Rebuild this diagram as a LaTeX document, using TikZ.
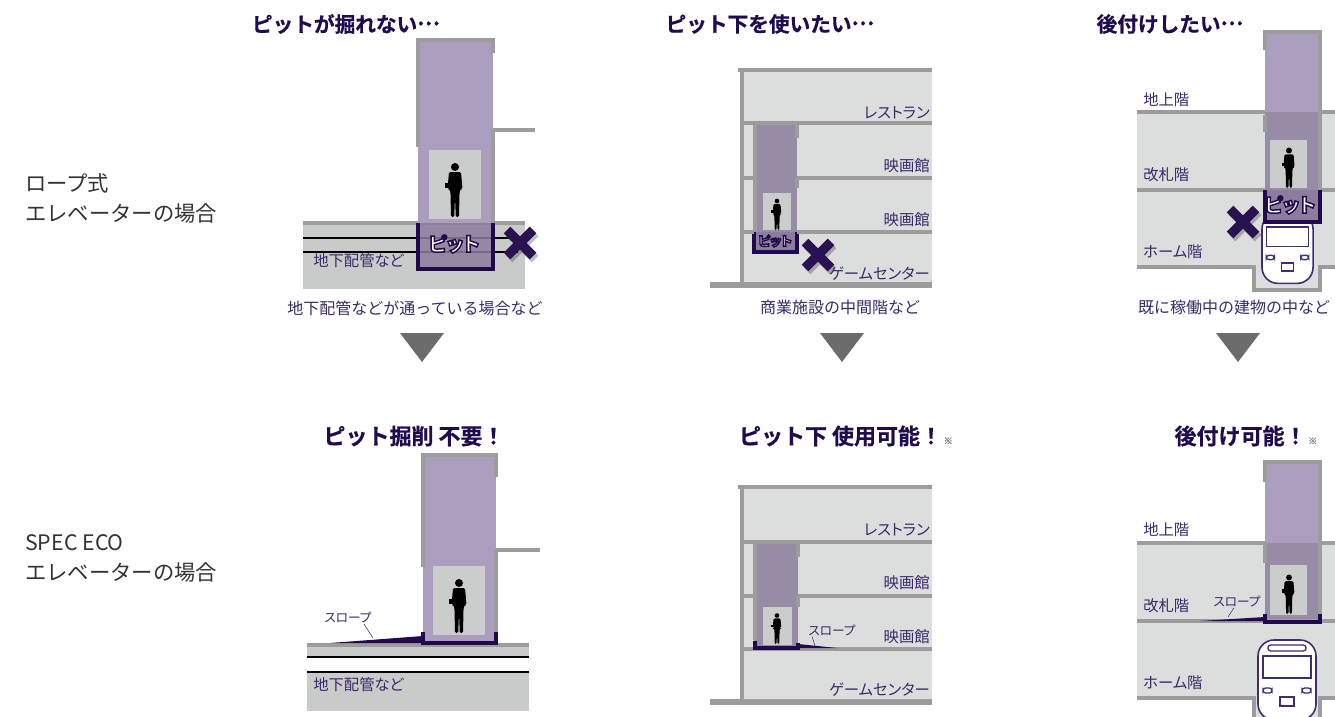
\documentclass[tikz,border=0pt]{standalone}
\usepackage{fontspec}
\setmainfont{Noto Sans CJK JP}
\newfontfamily\propfont{Noto Sans CJK JP}[RawFeature=+palt]
\newfontfamily\titlefont{Noto Sans CJK JP Bold}[FakeBold=0.6]
\usetikzlibrary{positioning}

\definecolor{titlecol}{HTML}{1F0B4D}
\definecolor{lblcol}{HTML}{3B2968}
\definecolor{sidecol}{HTML}{333333}
\definecolor{wallgray}{HTML}{9C9C9C}
\definecolor{floorfill}{HTML}{DCDDDD}
\definecolor{groundfill}{HTML}{C9CACA}
\definecolor{shaftlight}{HTML}{AB9DBE}
\definecolor{shaftmid}{HTML}{978BA6}
\definecolor{pitfill}{HTML}{8C7D9E}
\definecolor{pitdark}{HTML}{21094D}
\definecolor{cabgray}{HTML}{CBCCCC}
\definecolor{arrowgray}{HTML}{6B6B6B}
\definecolor{ngcol}{HTML}{2A1252}
\definecolor{trainline}{HTML}{3F2D6E}

\newcommand{\pitword}{\textcolor{white}{\special{pdf:literal direct 2 Tr 1.1 w 0.129 0.035 0.302 RG}ピット\special{pdf:literal direct 0 Tr}}}
\newcommand{\kome}{{\fontsize{7}{8}\selectfont\mdseries\color{gray}\,※}}
\newcommand{\tdots}{\raisebox{0.33em}{…}}

\begin{document}
\begin{tikzpicture}[x=0.75pt, y=-0.75pt,
  wall/.style={draw=wallgray, line width=3.6pt},
  pipe/.style={draw=black, line width=1.4pt},
  pitline/.style={draw=pitdark, line width=3pt},
  title/.style={font=\titlefont\fontsize{15.5}{18}\selectfont, text=titlecol},
  result/.style={font=\titlefont\fontsize{16.5}{19}\selectfont, text=titlecol},
  lbl/.style={font=\propfont\fontsize{11.5}{13}\selectfont, text=lblcol, inner sep=0pt},
  caption/.style={font=\fontsize{12}{14}\selectfont, text=lblcol, inner sep=0pt},
  slope/.style={font=\propfont\fontsize{9.5}{10}\selectfont, text=lblcol, inner sep=0pt},
  pitlbl/.style={font=\propfont\fontsize{14.5}{15}\selectfont\bfseries, inner sep=0pt},
  side/.style={font=\fontsize{16}{22.5}\selectfont, text=sidecol, align=left, anchor=west, inner sep=0pt},
  down/.style={fill=arrowgray},
  leader/.style={draw=lblcol, line width=0.4pt},
  pics/person/.style={code={
    \fill[black] (0,-50) circle (4);
    \fill[black, rounded corners=1pt] (-6,-45) -- (6,-45) -- (7.5,-28) -- (5.5,-28) -- (4.5,-24)
      -- (4,0) -- (0.8,0) -- (0,-20) -- (-0.8,0) -- (-4,0) -- (-4.5,-24) -- (-5.5,-28) -- (-7.5,-28) -- cycle;
    \fill[black] (-10,-34) rectangle (-5,-29);
  }},
  pics/ng/.style={code={
    \draw[line width=7pt, black, opacity=0.25] (-11,-10) -- (15,16) (15,-10) -- (-11,16);
    \draw[line width=7pt, ngcol] (-13,-13) -- (13,13) (13,-13) -- (-13,13);
  }},
  pics/train/.style={code={
    \draw[trainline, line width=1.2pt, fill=white, rounded corners=12pt] (0,80) -- (0,0) -- (58,0) -- (58,80) -- cycle;
    \draw[trainline, line width=1pt, rounded corners=2pt] (10,5) rectangle (48,11);
    \draw[trainline, line width=1pt] (5,16) rectangle (53,38);
    \draw[trainline, line width=1pt, rounded corners=2pt] (5,48) rectangle (14,53) (44,48) rectangle (53,53);
    \draw[trainline, line width=1pt] (22,57) rectangle (36,66);
  }}]

\useasboundingbox (0,0) rectangle (1335,717);

\node[side] (rope) at (25,198) {ロープ式\\エレベーターの場合};
\node[side] (eco) at (25,558) {SPEC ECO\\エレベーターの場合};

\fill[groundfill] (303,221) rectangle (525,289);
\draw[wall] (303,223) -- (525,223);
\draw[pipe] (303,238) -- (518,238) (303,252) -- (518,252);
\fill[shaftlight] (418,40) rectangle (493,223);
\fill[cabgray] (429,150) rectangle (481,219);
\pic at (455,217) {person};
\fill[pitfill, fill opacity=0.85] (418,223) rectangle (493,269);
\draw[pitline] (418,223) -- (418,269) -- (493,269) -- (493,223);
\draw[wall] (418,147) -- (418,40) -- (493,40) -- (493,53);
\draw[wall] (493,130) -- (493,223) (493,130) -- (535,130);
\node[pitlbl] (pit1) at (454,244) {\pitword};
\pic at (520,243) {ng};
\node[lbl, anchor=west] (pipe1) at (313,261) {地下配管など};
\node[caption] (cap1) at (415,308) {地下配管などが通っている場合など};
\node[title] (t1) at (346,24) {ピットが掘れない\tdots};
\fill[down] (400,333) -- (444,333) -- (422,362) -- cycle;

\fill[floorfill] (742,70) rectangle (932,285);
\fill[shaftmid] (754,123) rectangle (797,232);
\fill[cabgray] (763,193) rectangle (791,230);
\pic[scale=0.58] at (777,230) {person};
\fill[pitfill] (754,232) rectangle (797,252);
\draw[pitline] (754,232) -- (754,252) -- (797,252) -- (797,232);
\draw[wall] (738,70) -- (932,70) (742,70) -- (742,285) (742,123) -- (932,123);
\draw[wall] (742,178) -- (755,178) (797,178) -- (932,178);
\draw[wall] (742,232) -- (754,232) (797,232) -- (932,232);
\draw[wall] (755,123) -- (755,232) (797,123) -- (797,138) (797,178) -- (797,188);
\draw[wall, line width=4.5pt] (710,285) -- (932,285);
\node[pitlbl, font=\propfont\fontsize{9.5}{10}\selectfont\bfseries] (pit2) at (775,241) {\pitword};
\pic at (818,255) {ng};
\node[lbl, anchor=east] (r2a) at (930,113) {レストラン};
\node[lbl, anchor=east] (r2b) at (930,166) {映画館};
\node[lbl, anchor=east] (r2c) at (930,220) {映画館};
\node[lbl, anchor=east] (r2d) at (930,274) {ゲームセンター};
\node[caption] (cap2) at (840,307) {商業施設の中間階など};
\node[title] (t2) at (770,24) {ピット下を使いたい\tdots};
\fill[down] (820,333) -- (864,333) -- (842,362) -- cycle;

\fill[floorfill] (1137,112) rectangle (1335,267);
\fill[floorfill] (1254,267) rectangle (1320,290);
\draw[wall] (1137,112) -- (1265,112) (1320,112) -- (1335,112);
\draw[wall] (1137,190) -- (1265,190) (1320,190) -- (1335,190);
\draw[wall] (1137,267) -- (1254,267) -- (1254,290) -- (1320,290) -- (1320,267) -- (1335,267);
\pic[scale=0.88] at (1262,213) {train};
\fill[shaftlight] (1265,32) rectangle (1320,112);
\fill[shaftmid] (1265,112) rectangle (1320,190);
\fill[cabgray] (1270,140) rectangle (1307,188);
\pic[scale=0.75] at (1289,188) {person};
\fill[pitfill] (1265,190) rectangle (1320,222);
\draw[pitline] (1265,190) -- (1265,222) -- (1320,222) -- (1320,190);
\draw[wall] (1265,50) -- (1265,32) -- (1320,32) -- (1320,190) (1265,115) -- (1265,132);
\node[pitlbl] (pit3) at (1290,205) {\pitword};
\pic at (1243,222) {ng};
\node[lbl, anchor=west] (r3a) at (1143,100) {地上階};
\node[lbl, anchor=west] (r3b) at (1143,175) {改札階};
\node[lbl, anchor=west] (r3c) at (1143,252) {ホーム階};
\node[caption] (cap3) at (1234,307) {既に稼働中の建物の中など};
\node[title] (t3) at (1170,24) {後付けしたい\tdots};
\fill[down] (1216,333) -- (1260,333) -- (1238,362) -- cycle;

\fill[groundfill] (307,645) rectangle (529,657);
\fill[groundfill] (307,672) rectangle (529,711);
\draw[wall] (307,645) -- (529,645);
\draw[pipe] (307,657) -- (529,657) (307,672) -- (529,672);
\fill[shaftlight] (423,455) rectangle (496,643);
\fill[cabgray] (433,566) rectangle (485,635);
\pic at (459,633) {person};
\draw[wall] (423,567) -- (423,455) -- (496,455) -- (496,477);
\draw[wall] (496,550) -- (496,632) (496,550) -- (540,550);
\draw[pitline] (423,632) -- (423,643) -- (496,643) -- (496,632);
\fill[pitdark] (330,643) -- (423,636) -- (423,643) -- cycle;
\node[slope] (sl4) at (348,617) {スロープ};
\coordinate (sl4e) at (373,638);
\draw[leader] (sl4.south east) ++(-8,1) -- (sl4e);
\node[lbl, anchor=west] (pipe4) at (313,685) {地下配管など};
\node[result] (t4) at (414,436) {ピット掘削 不要！};

\fill[floorfill] (742,487) rectangle (932,702);
\fill[shaftmid] (754,542) rectangle (798,649);
\fill[cabgray] (763,607) rectangle (792,645);
\pic[scale=0.57] at (777,644) {person};
\draw[wall] (738,487) -- (932,487) (742,487) -- (742,702) (742,542) -- (932,542);
\draw[wall] (742,596) -- (755,596) (798,596) -- (932,596);
\draw[wall] (742,649) -- (932,649);
\draw[wall] (755,542) -- (755,640) (798,542) -- (798,557) (798,596) -- (798,607);
\draw[wall, line width=4.5pt] (710,702) -- (932,702);
\draw[pitline] (755,641) -- (755,648) -- (798,648) -- (798,643);
\fill[pitdark] (798,644) -- (837,648) -- (798,648) -- cycle;
\node[slope] (sl5) at (832,630) {スロープ};
\coordinate (sl5e) at (815,646);
\draw[leader] (sl5.south west) ++(4,1) -- (sl5e);
\node[lbl, anchor=east] (r5a) at (930,530) {レストラン};
\node[lbl, anchor=east] (r5b) at (930,583) {映画館};
\node[lbl, anchor=east] (r5c) at (930,637) {映画館};
\node[lbl, anchor=east] (r5d) at (930,690) {ゲームセンター};
\node[result] (t5) at (846,436) {ピット下 使用可能！\kome};

\fill[floorfill] (1137,543) rectangle (1335,698);
\fill[floorfill] (1254,698) rectangle (1320,717);
\begin{scope}
  \clip (1250,630) rectangle (1330,717);
  \pic at (1258,640) {train};
\end{scope}
\draw[wall] (1137,543) -- (1265,543) (1320,543) -- (1335,543);
\draw[wall] (1137,621) -- (1335,621);
\draw[wall] (1137,698) -- (1254,698) -- (1254,717) (1320,717) -- (1320,698) -- (1335,698);
\fill[shaftlight] (1265,462) rectangle (1320,543);
\fill[shaftmid] (1265,543) rectangle (1320,619);
\fill[cabgray] (1270,565) rectangle (1307,615);
\pic[scale=0.73] at (1289,614) {person};
\draw[wall] (1265,482) -- (1265,462) -- (1320,462) -- (1320,614) (1265,543) -- (1265,563);
\draw[pitline] (1265,614) -- (1265,622) -- (1320,622) -- (1320,614);
\fill[pitdark] (1200,621) -- (1265,617) -- (1265,621) -- cycle;
\node[slope] (sl6) at (1237,601) {スロープ};
\coordinate (sl6e) at (1228,617);
\draw[leader] (sl6.south) ++(-3,1) -- (sl6e);
\node[lbl, anchor=west] (r6a) at (1143,530) {地上階};
\node[lbl, anchor=west] (r6b) at (1143,606) {改札階};
\node[lbl, anchor=west] (r6c) at (1143,683) {ホーム階};
\node[result] (t6) at (1246,436) {後付け可能！\kome};
\end{tikzpicture}
\end{document}
